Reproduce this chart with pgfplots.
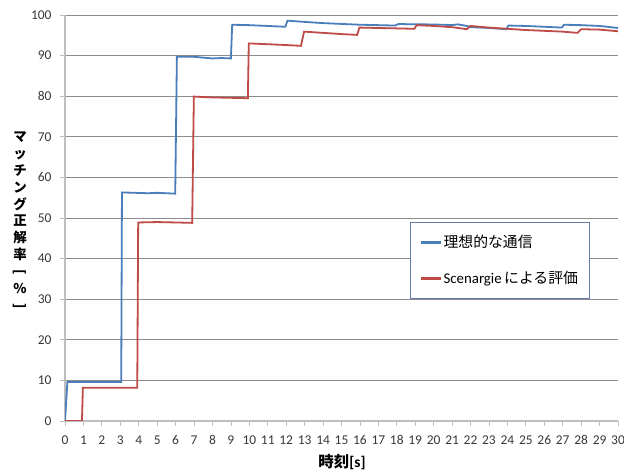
\documentclass[border=0pt]{standalone}
\usepackage{fontspec}
\usepackage{graphicx}
\usepackage{pgfplots}
\pgfplotsset{compat=1.18}
\setmainfont{Carlito}
\newfontfamily\jp{Noto Sans CJK JP}

\definecolor{serblue}{RGB}{74,126,187}
\definecolor{serred}{RGB}{190,75,72}
\definecolor{gridgray}{RGB}{140,140,140}
\definecolor{axisgray}{RGB}{190,190,190}
\definecolor{legborder}{RGB}{95,125,165}

\begin{document}
\begin{tikzpicture}
\begin{axis}[
  at={(65bp,49bp)}, anchor=south west,
  scale only axis, width=553bp, height=406bp,
  xmin=0, xmax=30, ymin=0, ymax=100,
  axis lines=left, axis line style={-, axisgray, line width=1.2bp},
  xtick={0,1,...,30}, ytick={0,10,...,100},
  tick align=outside, major tick length=5bp,
  tick style={axisgray, line width=0.8bp},
  ymajorgrids, grid style={gridgray, line width=0.7bp},
  /pgf/number format/assume math mode=true,
  tick label style={font=\fontsize{13.5}{15}\selectfont, text=black!78},
  xticklabel style={yshift=-6bp},
  yticklabel style={xshift=-5bp},
  legend style={at={(rel axis cs:0.6239,0.490)}, anchor=north west,
    draw=legborder, line width=0.8bp, inner xsep=9bp, inner ysep=11bp,
    row sep=18bp, font=\fontsize{14.9}{16}\selectfont},
  legend cell align=left,
  legend image code/.code={\draw[#1] (0bp,0bp) -- (20bp,0bp);},
  every legend image post/.style={line width=2.2bp},
]
% ideal communication
\addplot[serblue, line width=1.8bp] coordinates {
  (0,0) (0.13,9.6) (3.05,9.6) (3.09,56.3) (4.5,56.1) (5,56.2) (5.98,56.0)
  (6.07,89.7) (7,89.7) (7.5,89.5) (8,89.3) (8.5,89.4) (9.0,89.3)
  (9.07,97.6) (10,97.5) (11,97.3) (11.95,97.1) (12.07,98.6) (13,98.3)
  (14,98.0) (15,97.8) (16,97.6) (17,97.5) (17.9,97.4) (18.1,97.8)
  (18.8,97.7) (19.5,97.7) (20.5,97.6) (21,97.5) (21.3,97.7) (21.8,97.3)
  (22.05,97.0) (23,96.8) (23.95,96.5) (24.05,97.4) (25,97.3) (26,97.1)
  (26.95,96.9) (27.07,97.6) (28,97.5) (29,97.3) (30,96.8)
};
\addlegendentry{{\jp 理想的な通信}}
% Scenargie evaluation
\addplot[serred, line width=1.8bp] coordinates {
  (0,0) (0.92,0) (0.97,8.2) (3.92,8.2) (3.97,48.9) (5,49.0) (6,48.9)
  (6.9,48.8) (6.99,79.9) (8,79.7) (9,79.6) (9.92,79.5) (9.97,93.0)
  (11,92.8) (12,92.6) (12.8,92.4) (12.97,95.9) (14,95.6) (15,95.3)
  (15.85,95.1) (15.97,96.9) (17,96.8) (18,96.7) (18.95,96.6) (19.08,97.5)
  (20,97.3) (21,97.0) (21.8,96.5) (22.0,97.3) (23,96.9) (24,96.6)
  (25,96.3) (26,96.1) (27,95.9) (27.8,95.6) (28.0,96.5) (29,96.4) (30,96.0)
};
\addlegendentry{Scenargie\,{\jp による評価}}
\end{axis}
% axis titles
\node[font=\jp\bfseries\fontsize{13.5}{16.9}\selectfont, align=center]
  at (20bp,249bp)
  {マ\\ッ\\チ\\ン\\グ\\正\\解\\率\\\rotatebox[origin=c]{-90}{[}\\\%\\\rotatebox[origin=c]{-90}{]}};
\node[font=\bfseries\fontsize{15.5}{17}\selectfont] at (342bp,8bp) {{\jp 時刻}[s]};
\pgfresetboundingbox
\path[use as bounding box] (0,0) rectangle (624bp,470bp);
\end{tikzpicture}
\end{document}
